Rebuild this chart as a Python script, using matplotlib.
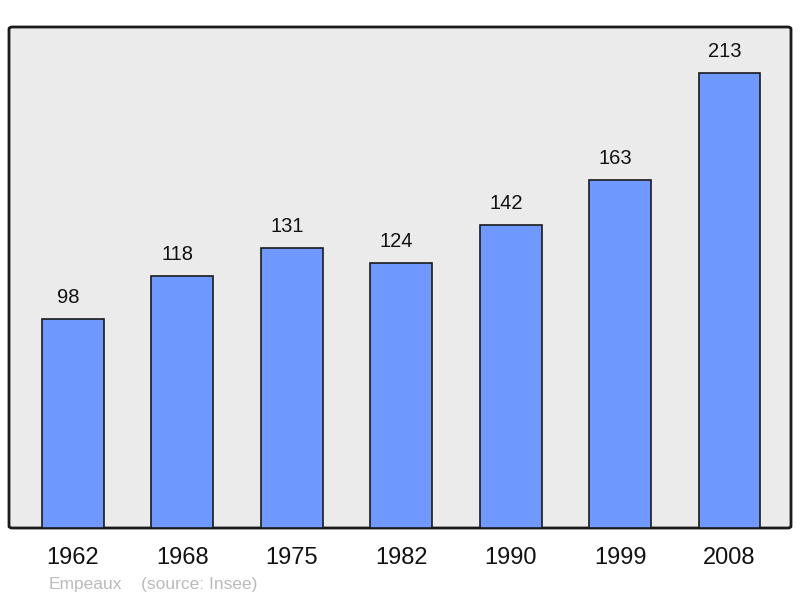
import matplotlib.pyplot as plt
import numpy as np
from matplotlib.patches import FancyBboxPatch

plt.rcParams['font.family'] = ['Liberation Sans', 'DejaVu Sans']

# data
years = ['1962', '1968', '1975', '1982', '1990', '1999', '2008']
population = [98, 118, 131, 124, 142, 163, 213]
town = 'Empeaux'
source = '(source: Insee)'

fig = plt.figure(figsize=(8, 5.98), dpi=100)
W, H = 800, 598
left, right, top, bottom = 9, 791, 27, 528
ax = fig.add_axes([left / W, 1 - bottom / H, (right - left) / W, (bottom - top) / H])
ax.set_facecolor('none')

x = np.arange(len(years))
ax.set_xlim(-0.584, 6.562)
ax.set_ylim(0, 234.7)

# rounded frame background
bg = FancyBboxPatch((0, 0), 1, 1, boxstyle='round,pad=0,rounding_size=0.004',
                    transform=ax.transAxes, facecolor='#ebebeb', edgecolor='#1a1a1a',
                    linewidth=2, zorder=0, clip_on=False)
ax.add_patch(bg)

ax.bar(x, population, width=0.566, color='#7099ff', edgecolor='#1a1a1a',
       linewidth=1.2, zorder=2)

for xi, v in zip(x, population):
    ax.annotate(str(v), (xi, v), xytext=(-3.5, 15.5), textcoords='offset points',
                ha='center', va='center', fontsize=14.5, color='#111111')

for s in ax.spines.values():
    s.set_visible(False)
ax.set_xticks(x)
ax.set_xticklabels(years, fontsize=17, color='#111111')
ax.tick_params(axis='x', length=0, pad=14)
ax.set_yticks([])

fig.text(49 / W, 1 - 584 / H, town, fontsize=12.5, color='#bbbbbb', va='center', ha='left')
fig.text(141 / W, 1 - 584 / H, source, fontsize=12.5, color='#bbbbbb', va='center', ha='left')

plt.savefig('out.png', dpi=100)
